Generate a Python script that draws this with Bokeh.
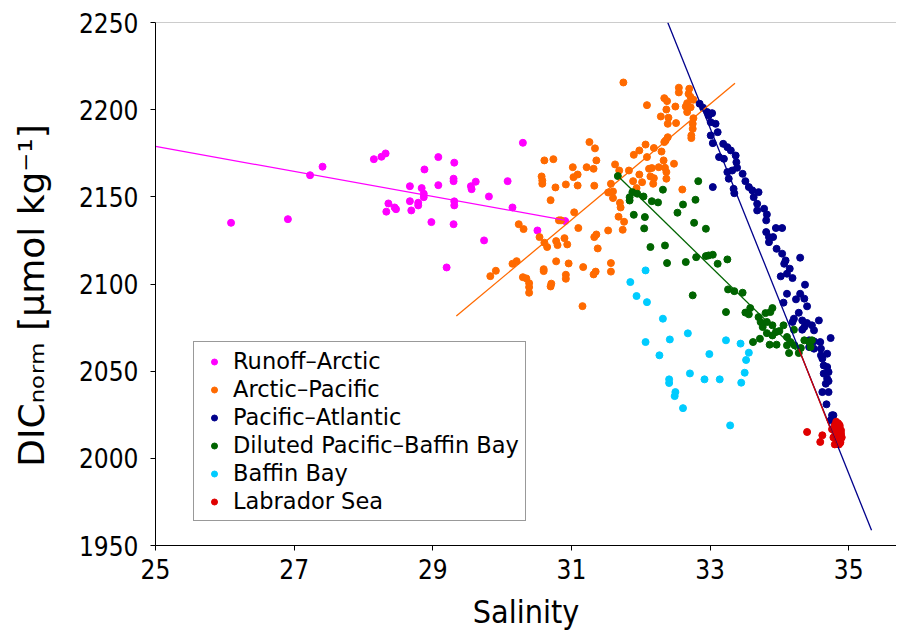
from bokeh.plotting import figure
from bokeh.models import Range1d, FixedTicker, Span
from bokeh.embed import file_html
from bokeh.resources import INLINE

# ---------------- data (Salinity, DIC_norm) ----------------
runoff_s = [26.09, 26.91, 27.23, 27.41, 28.15, 28.26, 28.32, 28.36, 28.33, 28.45, 28.47, 28.67, 28.67, 28.69,
            28.79, 28.79, 28.84, 28.87, 28.87, 28.88, 28.98, 29.08, 29.08, 29.30, 29.30, 29.31, 29.31, 29.31,
            29.30, 29.55, 29.56, 29.62, 29.81, 29.74, 29.20, 30.30, 30.08, 30.15, 30.51, 30.91]
runoff_d = [2135.1, 2137.2, 2162.4, 2167.3, 2171.6, 2173.0, 2174.9, 2146.2, 2141.5, 2143.9, 2142.9, 2156.1, 2147.5, 2142.2,
            2146.6, 2145.1, 2155.0, 2151.8, 2149.8, 2165.7, 2135.5, 2156.7, 2172.8, 2160.4, 2159.0, 2169.6, 2147.4, 2145.1,
            2134.3, 2156.1, 2154.4, 2158.7, 2150.2, 2125.0, 2109.5, 2181.0, 2159.0, 2143.9, 2130.7, 2136.1]

arcpac_s = [31.26, 31.34, 31.36, 31.32, 31.22, 31.02, 31.09, 31.03, 31.09, 30.92, 31.33, 30.74, 30.61, 30.57,
            30.58, 30.58, 30.77, 30.70, 31.04, 30.82, 30.24, 30.31, 30.54, 30.61, 30.65, 30.78, 30.80, 30.90,
            30.94, 31.10, 31.33, 31.36, 31.38, 31.53, 31.74, 31.76, 31.68, 31.71, 31.70, 31.60, 31.60, 31.53,
            31.57, 31.63, 31.69, 31.83, 31.90, 31.98, 31.89, 31.94, 31.98, 30.21, 30.15, 29.91, 29.83, 30.30,
            30.35, 30.39, 30.39, 30.39, 30.60, 30.60, 30.78, 30.96, 30.71, 30.70, 30.92, 30.92, 31.17, 31.32,
            31.35, 31.57, 31.57, 31.16, 30.85,
            31.75, 32.55, 32.55, 32.70, 32.69, 32.72, 32.76, 32.67, 32.65, 32.72, 32.67, 32.34, 32.38, 32.50,
            32.37, 32.09, 32.29, 32.40, 32.39, 32.51, 32.76, 32.75, 32.75, 32.73, 32.73, 32.39, 32.36, 32.34,
            32.07, 32.09, 32.19, 32.30, 32.33, 32.48, 32.12, 32.16, 32.26, 32.35, 32.37, 32.37, 32.14, 32.19,
            32.02, 32.60, 32.18]
arcpac_d = [2181.4, 2177.8, 2170.9, 2166.1, 2167.0, 2167.0, 2162.8, 2161.3, 2156.5, 2157.1, 2156.4, 2171.6, 2170.9, 2161.7,
            2159.4, 2157.5, 2155.4, 2148.1, 2141.1, 2136.5, 2134.3, 2131.5, 2126.9, 2123.7, 2121.2, 2124.6, 2122.3, 2126.3,
            2122.7, 2132.1, 2126.9, 2128.4, 2120.4, 2130.7, 2131.1, 2135.7, 2138.6, 2143.9, 2146.6, 2149.3, 2153.1, 2152.5,
            2157.5, 2168.6, 2165.1, 2165.1, 2174.1, 2176.6, 2159.0, 2155.0, 2162.8, 2113.1, 2111.6, 2107.6, 2104.5, 2103.9,
            2103.2, 2100.5, 2098.2, 2095.0, 2108.5, 2107.4, 2113.0, 2111.8, 2100.2, 2098.6, 2105.3, 2103.0, 2109.7, 2105.5,
            2107.1, 2112.0, 2107.1, 2087.3, 2136.5,
            2215.6, 2212.6, 2209.9, 2212.0, 2209.1, 2207.2, 2205.7, 2203.7, 2201.8, 2201.4, 2198.6, 2206.6, 2204.9, 2201.8,
            2200.1, 2202.6, 2196.1, 2195.4, 2191.9, 2192.3, 2195.1, 2191.9, 2189.0, 2185.2, 2183.7, 2184.2, 2182.3, 2181.4,
            2180.0, 2172.8, 2178.0, 2176.0, 2170.9, 2169.0, 2166.1, 2166.5, 2167.0, 2166.7, 2164.2, 2160.4, 2161.7, 2160.7,
            2158.4, 2154.2, 2157.5]

pacatl_s = [32.85, 32.90, 32.96, 33.03, 33.01, 33.08, 33.11, 33.01, 33.04, 33.19, 33.25, 33.30, 33.13, 33.20,
            33.37, 33.38, 33.39, 33.32, 33.25, 33.27, 33.47, 33.51, 33.56, 33.61, 33.70, 33.34, 33.35, 33.04,
            33.63, 33.68, 33.68, 33.78, 33.82, 33.81, 33.95, 34.04, 33.81, 33.85, 33.91, 33.85, 33.96, 34.04,
            34.09, 34.07, 34.30, 34.15, 34.11, 34.02, 34.19, 34.37, 34.11, 34.30, 34.24, 34.36, 34.06, 34.40,
            34.28, 34.21, 34.19, 34.33, 34.40, 34.47, 34.57, 34.36, 34.33, 34.50, 34.74, 34.43, 34.50, 34.59,
            34.43, 34.50, 34.60, 34.60, 34.69, 34.62, 34.64, 34.69, 34.71, 34.64, 34.69, 34.71, 34.67, 34.62,
            34.71, 34.68, 34.78, 34.74, 32.98, 34.76]
pacatl_d = [2203.4, 2201.1, 2198.6, 2198.0, 2192.8, 2191.9, 2187.1, 2185.2, 2180.8, 2180.4, 2178.5, 2176.6, 2172.8, 2171.8,
            2173.7, 2169.9, 2166.7, 2165.1, 2164.2, 2160.4, 2163.2, 2159.0, 2155.6, 2153.7, 2152.7, 2154.6, 2152.1, 2155.6,
            2149.8, 2146.0, 2142.2, 2143.2, 2139.9, 2136.5, 2132.1, 2132.1, 2129.8, 2126.9, 2126.9, 2124.0, 2120.2, 2117.4,
            2113.5, 2111.6, 2115.1, 2108.8, 2105.9, 2104.4, 2103.4, 2099.6, 2094.4, 2094.4, 2091.2, 2091.6, 2089.3, 2087.2,
            2083.5, 2080.1, 2078.2, 2079.1, 2077.6, 2076.3, 2079.1, 2075.3, 2073.8, 2073.4, 2069.0, 2067.7, 2067.1, 2066.7,
            2063.8, 2062.9, 2062.9, 2059.1, 2060.0, 2057.2, 2053.3, 2052.4, 2049.5, 2048.6, 2045.7, 2044.3, 2042.8, 2038.0,
            2038.0, 2031.0, 2024.7, 2021.8, 2196.6, 2024.7]

dilpac_s = [31.67, 31.88, 31.84, 31.84, 31.95, 32.04, 32.16, 32.25, 32.32, 31.90, 32.06, 32.05, 32.53, 32.61,
            32.79, 32.83, 32.77, 32.94, 32.14, 32.35, 32.38, 32.65, 32.80, 32.94, 32.98, 33.04, 33.11, 33.25,
            32.75, 33.26, 33.35, 33.47, 33.23, 33.51, 33.58, 33.56, 33.70, 33.80, 33.90, 33.87, 33.73, 33.76,
            33.82, 33.90, 33.95, 33.82, 33.90, 34.00, 34.06, 34.21, 34.11, 33.62, 33.72, 33.86, 33.96, 34.11,
            34.22, 34.36, 34.31, 34.14, 34.28, 34.16, 34.43, 34.47, 34.45]
dilpac_d = [2161.9, 2152.7, 2149.8, 2147.9, 2151.8, 2150.2, 2147.5, 2146.8, 2154.1, 2139.7, 2138.4, 2131.9, 2140.9, 2145.6,
            2148.3, 2159.0, 2135.1, 2131.7, 2121.2, 2122.1, 2112.0, 2112.6, 2115.4, 2116.0, 2116.4, 2116.8, 2111.6, 2114.1,
            2093.5, 2096.9, 2095.9, 2095.0, 2083.9, 2083.6, 2086.2, 2082.6, 2081.0, 2083.3, 2086.2, 2083.9, 2078.2, 2075.3,
            2078.2, 2076.3, 2072.4, 2071.8, 2070.5, 2073.0, 2076.3, 2073.8, 2069.6, 2066.7, 2068.6, 2065.2, 2065.2, 2064.8,
            2064.8, 2067.7, 2063.3, 2060.4, 2060.4, 2066.7, 2066.7, 2067.7, 2063.8]

baffin_s = [32.07, 31.85, 31.94, 32.09, 32.32, 32.07, 32.42, 32.27, 32.68, 32.99, 32.71, 32.41, 32.41, 32.50,
            32.49, 32.61, 32.92, 33.14, 33.23, 33.44, 33.56, 33.52, 33.50, 33.45, 33.29]
baffin_d = [2107.8, 2101.1, 2093.1, 2089.6, 2080.1, 2066.7, 2068.2, 2059.1, 2071.7, 2059.8, 2048.7, 2045.3, 2043.2, 2038.0,
            2035.7, 2028.8, 2045.3, 2045.3, 2067.7, 2065.8, 2060.6, 2056.4, 2049.1, 2043.4, 2018.9]

labsea_s = [34.80, 34.82, 34.85, 34.87, 34.83, 34.86, 34.88, 34.84, 34.81, 34.89, 34.86, 34.84, 34.87, 34.85,
            34.83, 34.90, 34.88, 34.86, 34.82, 34.85, 34.87, 34.84, 34.89, 34.86, 34.83, 34.88, 34.85, 34.87,
            34.84, 34.86, 34.78, 34.80, 34.40, 34.62, 34.59, 34.76]
labsea_d = [2019.0, 2021.0, 2020.0, 2018.0, 2016.0, 2017.0, 2015.0, 2014.0, 2013.0, 2016.0, 2012.0, 2011.0, 2013.0, 2010.0,
            2009.0, 2012.0, 2010.0, 2008.0, 2011.0, 2014.0, 2019.0, 2017.0, 2014.0, 2011.0, 2015.0, 2009.0, 2018.0, 2016.0,
            2020.0, 2013.0, 2012.0, 2008.0, 2015.1, 2013.2, 2009.4, 2016.7]

# regression line end points
fit_runoff_s, fit_runoff_d = [25.0, 30.92], [2178.9, 2136.5]
fit_arcpac_s, fit_arcpac_d = [29.34, 33.36], [2081.6, 2215.2]
fit_pacatl_s, fit_pacatl_d = [32.39, 35.33], [2250.0, 1958.7]
fit_dilpac_s, fit_dilpac_d = [31.67, 34.31], [2161.9, 2059.5]
fit_labsea_s, fit_labsea_d = [34.28, 34.84], [2062.8, 2006.5]

x_ticks = [25, 27, 29, 31, 33, 35]
y_ticks = [1950, 2000, 2050, 2100, 2150, 2200, 2250]

series = [
    ("Runoff\u2013Arctic", runoff_s, runoff_d, "#FF00FF"),
    ("Arctic\u2013Pacific", arcpac_s, arcpac_d, "#FF6A00"),
    ("Pacific\u2013Atlantic", pacatl_s, pacatl_d, "#00008B"),
    ("Diluted Pacific\u2013Baffin Bay", dilpac_s, dilpac_d, "#006400"),
    ("Baffin Bay", baffin_s, baffin_d, "#00CCFF"),
    ("Labrador Sea", labsea_s, labsea_d, "#E00000"),
]
fits = [
    (fit_runoff_s, fit_runoff_d, "#FF00FF"),
    (fit_arcpac_s, fit_arcpac_d, "#FF6A00"),
    (fit_pacatl_s, fit_pacatl_d, "#00008B"),
    (fit_dilpac_s, fit_dilpac_d, "#006400"),
    (fit_labsea_s, fit_labsea_d, "#D00000"),
]

TICK_FONT = "'DejaVu Sans Condensed', 'DejaVu Sans'"

p = figure(width=896, height=634, output_backend="svg", toolbar_location=None,
           x_range=Range1d(25, 35.69), y_range=Range1d(1950, 2250),
           min_border_left=155, min_border_right=0, min_border_top=22, min_border_bottom=89)
p.outline_line_color = None
p.xgrid.visible = False
p.ygrid.visible = False
p.background_fill_color = "white"
p.border_fill_color = "white"

for name, s, d, c in series:
    p.scatter(s, d, size=7, color=c, line_color=c, legend_label=name)
for s, d, c in fits:
    p.line(s, d, line_color=c, line_width=1.3)

p.add_layout(Span(location=2250, dimension="width", line_color="#9a9a9a", line_width=1))

for ax in (p.xaxis[0], p.yaxis[0]):
    ax.axis_line_color = "black"
    ax.axis_line_width = 1
    ax.major_tick_line_color = "black"
    ax.major_tick_out = 5
    ax.major_tick_in = 0
    ax.minor_tick_line_color = None
    ax.major_label_text_font = TICK_FONT
    ax.major_label_text_font_size = "26px"
    ax.major_label_text_color = "black"

p.xaxis[0].ticker = FixedTicker(ticks=x_ticks)
p.yaxis[0].ticker = FixedTicker(ticks=y_ticks)
p.xaxis[0].major_label_standoff = 8
p.yaxis[0].major_label_standoff = 12
p.xaxis[0].axis_label = "Salinity"
p.xaxis[0].axis_label_text_font = TICK_FONT
p.xaxis[0].axis_label_text_font_size = "32px"
p.xaxis[0].axis_label_text_font_style = "normal"
p.xaxis[0].axis_label_text_color = "black"
p.xaxis[0].axis_label_standoff = 11

p.yaxis[0].axis_label = "DIC\u2099\u2092\u1d63\u2098 [\u03bcmol kg\u207b\u00b9]\u00a0\u00a0"
p.yaxis[0].axis_label_text_font = "DejaVu Sans"
p.yaxis[0].axis_label_text_font_size = "36px"
p.yaxis[0].axis_label_text_font_style = "normal"
p.yaxis[0].axis_label_text_color = "black"
p.yaxis[0].axis_label_standoff = 24

lg = p.legend[0]
lg.location = (38, 24)
lg.padding = 6
lg.margin = 0
lg.spacing = 2
lg.glyph_width = 28
lg.glyph_height = 15
lg.label_height = 26
lg.label_standoff = 5
lg.label_text_font = "DejaVu Sans"
lg.label_text_font_size = "22.5px"
lg.label_text_color = "black"
lg.border_line_color = "#333333"
lg.border_line_width = 1
lg.background_fill_color = "white"
lg.background_fill_alpha = 1.0

open("out.html", "w").write(file_html(p, INLINE))
